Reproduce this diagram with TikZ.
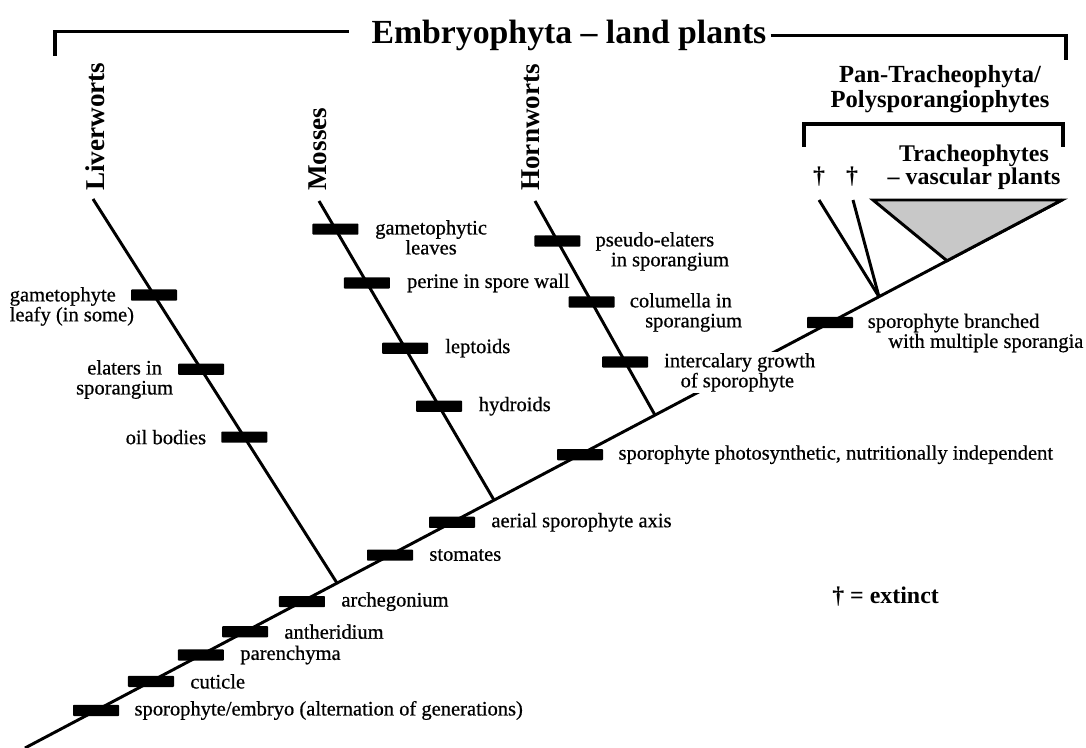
\documentclass[tikz,border=0pt]{standalone}
\usepackage{fontspec}
\setmainfont{Liberation Serif}
\newfontfamily\lblfont{Liberation Serif}[FakeBold=0.6]
\usetikzlibrary{positioning,calc}
\definecolor{cladegray}{RGB}{200,200,200}
\tikzset{
	branch/.style={line width=2.1pt},
	bracket/.style={line width=2.2pt},
	trait/.style={fill=black, inner sep=0pt, minimum width=1.15cm, minimum height=0.28cm, rounded corners=0.6pt},
	traitlbl/.style={font=\lblfont\fontsize{14.6}{14.2}\selectfont, inner sep=1pt},
	clade/.style={font=\bfseries\fontsize{19.3}{22}\selectfont, rotate=90, anchor=west, inner sep=0pt},
	group/.style={font=\bfseries\fontsize{17.5}{17.6}\selectfont, align=center, inner sep=0pt},
}

\begin{document}
\begin{tikzpicture}[x=0.025cm, y=-0.025cm]
\useasboundingbox (0,0) rectangle (1086,748);
%
	\coordinate (root) at (25,748);
	\coordinate (tip) at (1062,200);
	\coordinate (jLiv) at ($(root)!0.3009!(tip)$);
	\coordinate (jMos) at ($(root)!0.4523!(tip)$);
	\coordinate (jHor) at ($(root)!0.6075!(tip)$);
	\coordinate (jPan) at ($(root)!0.8235!(tip)$);
	\coordinate (apex) at ($(root)!0.8891!(tip)$);
	\coordinate (tLiv) at (93,199);
	\coordinate (tMos) at (319,201);
	\coordinate (tHor) at (535,201);
	\coordinate (tEx1) at (819,200);
	\coordinate (tEx2) at (853,200);
	\coordinate (triL) at (873,200);
%
	\draw[branch] (root) -- (tip);
	\draw[branch] (jLiv) -- (tLiv);
	\draw[branch] (jMos) -- (tMos);
	\draw[branch] (jHor) -- (tHor);
	\draw[branch] (jPan) -- (tEx1);
	\draw[branch] (jPan) -- (tEx2);
	\draw[branch, fill=cladegray, line join=miter] (triL) -- (apex) -- (tip) -- cycle;
%
	% main axis
	\node[trait] (bEmb) at ($(root)!0.0685!(tip)$) {};
	\node[trait] (bCut) at ($(root)!0.1215!(tip)$) {};
	\node[trait] (bPar) at ($(root)!0.1697!(tip)$) {};
	\node[trait] (bAnt) at ($(root)!0.2122!(tip)$) {};
	\node[trait] (bArc) at ($(root)!0.2671!(tip)$) {};
	\node[trait] (bSto) at ($(root)!0.3520!(tip)$) {};
	\node[trait] (bAer) at ($(root)!0.4118!(tip)$) {};
	\node[trait] (bPho) at ($(root)!0.5352!(tip)$) {};
	\node[trait] (bBra) at ($(root)!0.7763!(tip)$) {};
	\node[traitlbl, right=0.34cm of bEmb] (lEmb) {sporophyte/embryo (alternation of generations)};
	\node[traitlbl, right=0.36cm of bCut] (lCut) {cuticle};
	\node[traitlbl, right=0.36cm of bPar] (lPar) {parenchyma};
	\node[traitlbl, right=0.36cm of bAnt] (lAnt) {antheridium};
	\node[traitlbl, right=0.36cm of bArc] (lArc) {archegonium};
	\node[traitlbl, right=0.36cm of bSto] (lSto) {stomates};
	\node[traitlbl, right=0.36cm of bAer] (lAer) {aerial sporophyte axis};
	\node[traitlbl, right=0.34cm of bPho] (lPho) {sporophyte photosynthetic, nutritionally independent};
	\node[traitlbl, anchor=north west, align=left] (lBra) at ([shift={(0.32cm,0.265cm)}]bBra.east) {sporophyte branched\\\hspace*{1em}with multiple sporangia};
%
	% liverworts
	\node[trait] (bGam) at ($(tLiv)!0.25!(jLiv)$) {};
	\node[trait] (bEla) at ($(tLiv)!0.443!(jLiv)$) {};
	\node[trait] (bOil) at ($(tLiv)!0.62!(jLiv)$) {};
	\node[traitlbl, anchor=north east, align=left] (lGam) at ([shift={(0.125cm,0.24cm)}]bGam.west) {gametophyte\\leafy (in some)};
	\node[traitlbl, anchor=north east, align=center] (lEla) at ([shift={(-0.075cm,0.265cm)}]bEla.west) {elaters in\\sporangium};
	\node[traitlbl, left=0.33cm of bOil] (lOil) {oil bodies};
%
	% mosses
	\node[trait] (bLea) at ($(tMos)!0.094!(jMos)$) {};
	\node[trait] (bPer) at ($(tMos)!0.274!(jMos)$) {};
	\node[trait] (bLep) at ($(tMos)!0.492!(jMos)$) {};
	\node[trait] (bHyd) at ($(tMos)!0.686!(jMos)$) {};
	\node[traitlbl, anchor=north west, align=center] (lLea) at ([shift={(0.37cm,0.265cm)}]bLea.east) {gametophytic\\leaves};
	\node[traitlbl, right=0.38cm of bPer] (lPer) {perine in spore wall};
	\node[traitlbl, right=0.38cm of bLep] (lLep) {leptoids};
	\node[traitlbl, right=0.37cm of bHyd] (lHyd) {hydroids};
%
	% hornworts
	\node[trait] (bPse) at ($(tHor)!0.187!(jHor)$) {};
	\node[trait] (bCol) at ($(tHor)!0.472!(jHor)$) {};
	\node[trait] (bInt) at ($(tHor)!0.752!(jHor)$) {};
	\node[traitlbl, anchor=north west, align=left] (lPse) at ([shift={(0.33cm,0.265cm)}]bPse.east) {pseudo-elaters\\\hspace*{0.75em}in sporangium};
	\node[traitlbl, anchor=north west, align=left] (lCol) at ([shift={(0.33cm,0.265cm)}]bCol.east) {columella in\\\hspace*{0.75em}sporangium};
	\node[traitlbl, anchor=north west, align=left, fill=white] (lInt) at ([shift={(0.35cm,0.265cm)}]bInt.east) {intercalary growth\\\hspace*{0.8em}of sporophyte};
%
	\node[clade] (nLiv) at (95,191) {Liverworts};
	\node[clade] (nMos) at (318,191) {Mosses};
	\node[clade] (nHor) at (531,191) {Hornworts};
%
	\node[font=\bfseries\fontsize{24}{28}\selectfont, anchor=base, inner sep=0pt] (title) at (569,44) {Embryophyta -- land plants};
	\draw[bracket] (55,56) |- ([xshift=-0.55cm,yshift=0.12cm]title.west);
	\draw[bracket] ([xshift=0.1cm]title.east) -| (1066,60);
%
	\node[group] (pan) at (940,89) {Pan-Tracheophyta/\\Polysporangiophytes};
	\draw[bracket] (804,147) |- (1063,124) -- (1063,147);
	\node[group, font=\bfseries\fontsize{17}{16.6}\selectfont] (tra) at (974,167) {Tracheophytes\\-- vascular plants};
	\node[font=\bfseries\fontsize{17}{20}\selectfont, inner sep=0pt] (dag1) at (819,177) {†};
	\node[font=\bfseries\fontsize{17}{20}\selectfont, inner sep=0pt] (dag2) at (852,177) {†};
%
	\node[font=\bfseries\fontsize{17}{20}\selectfont, anchor=west, inner sep=0pt] (key) at (832,597) {† = extinct};
\end{tikzpicture}
\end{document}
